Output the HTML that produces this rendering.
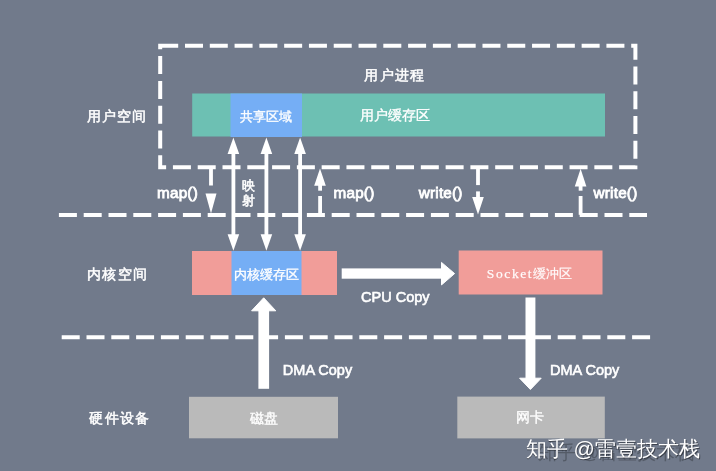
<!DOCTYPE html>
<html><head><meta charset="utf-8">
<style>
html,body{margin:0;padding:0;}
body{width:716px;height:471px;overflow:hidden;background:#717a8b;position:relative;font-family:"Liberation Sans",sans-serif;}
svg{position:absolute;left:0;top:0;filter:blur(0.3px);}
.t{font-family:"Liberation Sans",sans-serif;fill:#fff;}
.b{font-weight:bold;}
</style></head>
<body>
<svg width="716" height="471" viewBox="0 0 716 471">
  <!-- boxes -->
  <rect x="192.2" y="93.5" width="412.8" height="43" fill="#6dc0b3"/>
  <rect x="230.5" y="93.5" width="71.5" height="43.5" fill="#75aef5"/>
  <rect x="192" y="251" width="145" height="44" fill="#f19d99"/>
  <rect x="231.5" y="251" width="70" height="44" fill="#75aef5"/>
  <rect x="458.7" y="250.5" width="143.8" height="44" fill="#f19d99"/>
  <rect x="189" y="396.8" width="149" height="41.5" fill="#bababa"/>
  <rect x="457.3" y="396.6" width="147.5" height="41.8" fill="#bababa"/>

  <!-- dashed -->
  <g stroke="#fff" stroke-width="4" fill="none">
    <rect x="160.2" y="45.85" width="475.2" height="121.5" stroke-dasharray="18 6.79"/>
    <line x1="58.9" y1="214.9" x2="647" y2="214.9" stroke-dasharray="18 6.8"/>
    <line x1="61.7" y1="337.2" x2="650.2" y2="337.2" stroke-dasharray="18 6.8"/>
  </g>

  <!-- double arrows -->
  <g fill="#fff">
    <rect x="231.5" y="150" width="3.8" height="88"/>
    <polygon points="233.4,137.5 227.6,154 239.2,154"/>
    <polygon points="233.4,250.8 227.6,234.2 239.2,234.2"/>
    <rect x="264.5" y="150" width="3.8" height="88"/>
    <polygon points="266.4,137.5 260.6,154 272.2,154"/>
    <polygon points="266.4,250.8 260.6,234.2 272.2,234.2"/>
    <rect x="298.2" y="150" width="3.8" height="88"/>
    <polygon points="300.1,137.5 294.3,154 305.9,154"/>
    <polygon points="300.1,250.8 294.3,234.2 305.9,234.2"/>

    <!-- map down arrow -->
    <rect x="209.1" y="167" width="3.8" height="18.5"/>
    <polygon points="205.5,193.5 216.5,193.5 211,213.5"/>
    <!-- map up arrow -->
    <rect x="318.2" y="196" width="3.8" height="18.8"/>
    <rect x="318.2" y="182" width="3.8" height="8.7"/>
    <polygon points="320,168.4 314.2,185.8 325.8,185.8"/>
    <!-- write down arrow -->
    <rect x="476.1" y="167" width="3.8" height="18.1"/>
    <rect x="476.1" y="191.4" width="3.8" height="8"/>
    <polygon points="472.2,197 483.8,197 478,214.6"/>
    <!-- write up arrow -->
    <rect x="578.7" y="196" width="3.8" height="18.8"/>
    <rect x="578.7" y="182" width="3.8" height="8.7"/>
    <polygon points="580.6,168.8 574.8,186.4 586.4,186.4"/>

    <!-- big arrows -->
    <rect x="341.7" y="268.4" width="101" height="10.3"/>
    <polygon points="441.5,262.4 454.6,273.6 441.5,284.9" stroke="#fff" stroke-width="1" stroke-linejoin="round"/>
    <rect x="258.4" y="309" width="10.7" height="79.8"/>
    <polygon points="263.7,297.8 251.6,310.8 275.8,310.8" stroke="#fff" stroke-width="1" stroke-linejoin="round"/>
    <rect x="525.5" y="297.5" width="9.9" height="82"/>
    <polygon points="519.6,378.2 541.2,378.2 530.4,389.5" stroke="#fff" stroke-width="1" stroke-linejoin="round"/>
  </g>

  <!-- texts -->
  <g class="t" font-size="14" stroke="#fff" stroke-width="0.5" letter-spacing="1.3">
    <text x="117.2" y="120.8" text-anchor="middle">用户空间</text>
    <text x="117.8" y="279" text-anchor="middle">内核空间</text>
    <text x="120.1" y="422.9" text-anchor="middle">硬件设备</text>
    <text x="395" y="79.5" text-anchor="middle">用户进程</text>
  </g>
  <g class="t" font-size="14" stroke="#fff" stroke-width="0.35">
    <text x="395.3" y="120" text-anchor="middle">用户缓存区</text>
  </g>
  <g class="t" font-size="13" stroke="#fff" stroke-width="0.35">
    <text x="265.5" y="121" text-anchor="middle">共享区域</text>
    <text x="266.7" y="279.4" text-anchor="middle">内核缓存区</text>
    <text x="264" y="423" text-anchor="middle" font-size="13.8">磁盘</text>
    <text x="530.2" y="422.3" text-anchor="middle" font-size="13.5">网卡</text>
    <text x="248.3" y="189.5" text-anchor="middle" stroke-width="0.55">映</text>
    <text x="248.3" y="205" text-anchor="middle" stroke-width="0.55">射</text>
  </g>
  <text class="t" x="529.5" y="277.5" text-anchor="middle" font-size="13" fill="#fdeeee" stroke="#fdeeee" stroke-width="0.25"><tspan font-family="Liberation Serif" font-size="13.5" letter-spacing="1.6">Socket</tspan>缓冲区</text>
  <g class="t" font-size="15.3" stroke="#fff" stroke-width="0.8" letter-spacing="0.2">
    <text x="177.5" y="197.6" text-anchor="middle">map()</text>
    <text x="354" y="197.7" text-anchor="middle">map()</text>
    <text x="440.7" y="197.5" text-anchor="middle">write()</text>
    <text x="615.5" y="197.6" text-anchor="middle">write()</text>
  </g>
  <g class="t" font-size="14.5" stroke="#fff" stroke-width="0.6">
    <text x="395.3" y="301.6" text-anchor="middle">CPU Copy</text>
    <text x="317.5" y="375" text-anchor="middle">DMA Copy</text>
    <text x="584.7" y="375.2" text-anchor="middle">DMA Copy</text>
  </g>
  <g font-family="Liberation Sans" text-anchor="middle">
    <text x="616" y="458.5" font-size="18.5" fill="#3d424b" fill-opacity="0.55">知乎 @雷壹技术栈</text>
    <text x="613.5" y="457" font-size="21" fill="#2c3038" fill-opacity="0.75">知乎 @雷壹技术栈</text>
    <text x="612.7" y="456.2" font-size="21" fill="#fff">知乎 @雷壹技术栈</text>
  </g>
</svg>
</body></html>
